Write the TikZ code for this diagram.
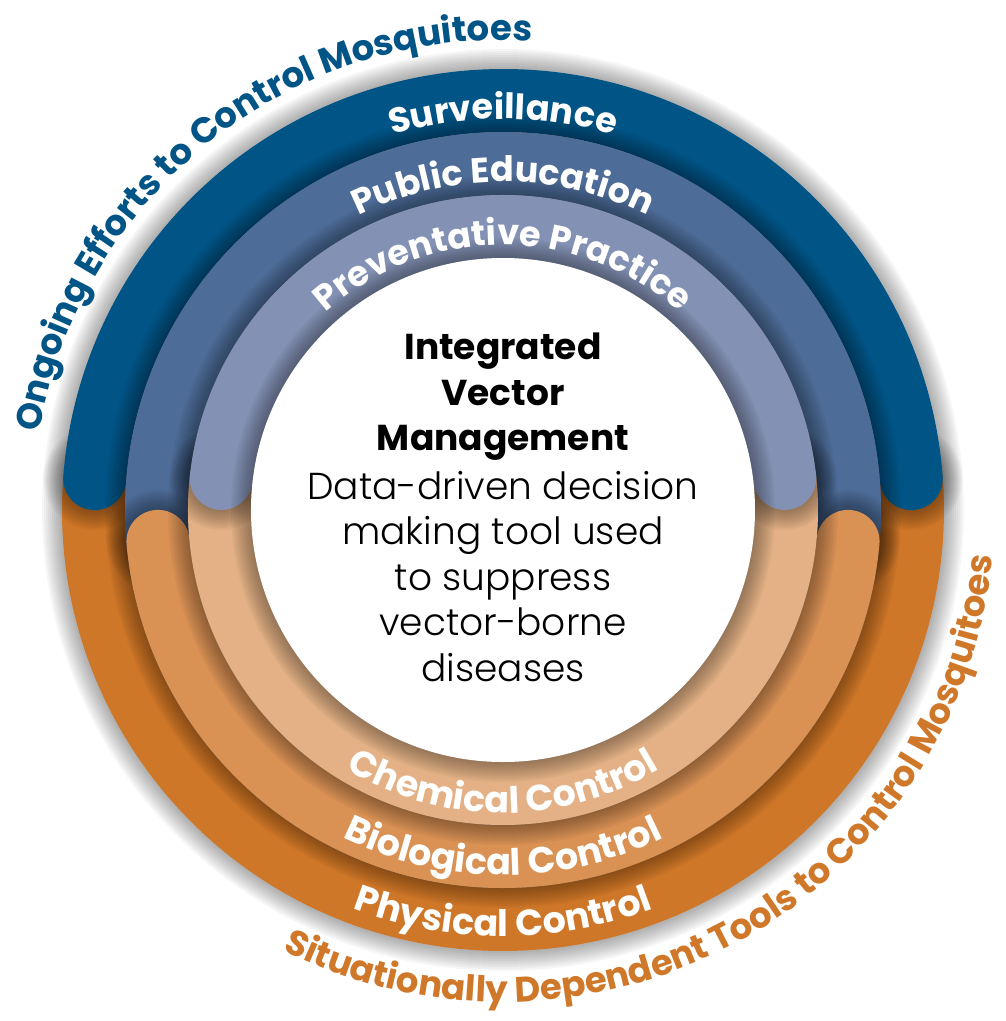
\documentclass[tikz,border=0pt]{standalone}
\usepackage{fontspec}
\setmainfont{Poppins}
\newfontfamily\lightfont{Poppins Light}
\usetikzlibrary{decorations.text}

\definecolor{survblue}{RGB}{0,84,134}
\definecolor{edublue}{RGB}{78,108,152}
\definecolor{prevblue}{RGB}{131,145,180}
\definecolor{physorange}{RGB}{207,119,40}
\definecolor{bioorange}{RGB}{217,145,84}
\definecolor{chemorange}{RGB}{227,177,133}
\definecolor{tooltext}{RGB}{208,120,42}

\newcommand{\bandfont}{\fontsize{35}{35}\selectfont\bfseries}
\newcommand{\lowbandfont}{\fontsize{36.5}{36.5}\selectfont\bfseries}
\newcommand{\rimfont}{\fontsize{35.5}{35.5}\selectfont\bfseries}

% one ring segment: colour, radius, start angle, end angle
\newcommand{\bandarc}[4]{%
  \foreach \k in {10,...,1}
    \draw[black, opacity=0.035, line width=63pt+4*\k pt, line cap=round]
      (#3:#2) arc[start angle=#3, end angle=#4, radius=#2];
  \draw[#1, line width=63pt, line cap=round]
    (#3:#2) arc[start angle=#3, end angle=#4, radius=#2];
}

\begin{document}
\begin{tikzpicture}[x=1pt, y=1pt,
    bandtext/.style={decorate, decoration={text along path, text align=center,
      text color=white, text={|\bandfont|#1}}},
    lowbandtext/.style={decorate, decoration={text along path, text align=center,
      text color=white, text={|\lowbandfont|#1}}}]
    \useasboundingbox (-503,-511) rectangle (503,510);

    % outer ring
    \bandarc{physorange}{409.5}{175.6}{364.4}
    \bandarc{survblue}{409.5}{4.4}{175.6}
    % middle ring
    \bandarc{edublue}{346.5}{-5.2}{185.2}
    \bandarc{bioorange}{346.5}{185.2}{354.8}
    % inner ring
    \bandarc{chemorange}{283.5}{173.6}{366.4}
    \bandarc{prevblue}{283.5}{6.4}{173.6}

    % centre disc
    \foreach \k in {10,...,1}
      \draw[black, opacity=0.035, line width=4*\k pt] (0,0) circle (252);
    \fill[white] (0,0) circle (252);

    \node[align=center, inner sep=0pt, anchor=north, font=\fontsize{36}{45.5}\selectfont] (ivm) at (0,177)
      {\textbf{Integrated}\\ \textbf{Vector}\\ \textbf{Management}\\[3pt]
       {\lightfont\fontsize{37.5}{46}\selectfont Data-driven decision}\\ {\lightfont\fontsize{37.5}{46}\selectfont making tool used}\\
       {\lightfont\fontsize{37.5}{46}\selectfont to suppress}\\ {\lightfont\fontsize{37.5}{46}\selectfont vector-borne}\\
       {\lightfont\fontsize{37.5}{46}\selectfont diseases}};

    % ring labels
    \path[bandtext=Surveillance] (150:391) arc[start angle=150, end angle=30, radius=391];
    \path[bandtext=Public Education] (155:328) arc[start angle=155, end angle=25, radius=328];
    \path[bandtext=Preventative Practice] (165:265) arc[start angle=165, end angle=15, radius=265];
    \path[lowbandtext=Chemical Control] (200:303) arc[start angle=200, end angle=340, radius=303];
    \path[lowbandtext=Biological Control] (200:365) arc[start angle=200, end angle=340, radius=365];
    \path[lowbandtext=Physical Control] (200:426) arc[start angle=200, end angle=340, radius=426];

    % rim labels
    \path[decorate, decoration={text along path, text align=center, text color=survblue,
      text={|\rimfont|Ongoing Efforts to Control Mosquitoes}}]
      (188.5:470) arc[start angle=188.5, end angle=68.5, radius=470];
    \path[decorate, decoration={text along path, text align=center, text color=tooltext,
      text={|\rimfont|Situationally Dependent Tools to Control Mosquitoes}}]
      (224:492) arc[start angle=224, end angle=374, radius=492];
\end{tikzpicture}
\end{document}
